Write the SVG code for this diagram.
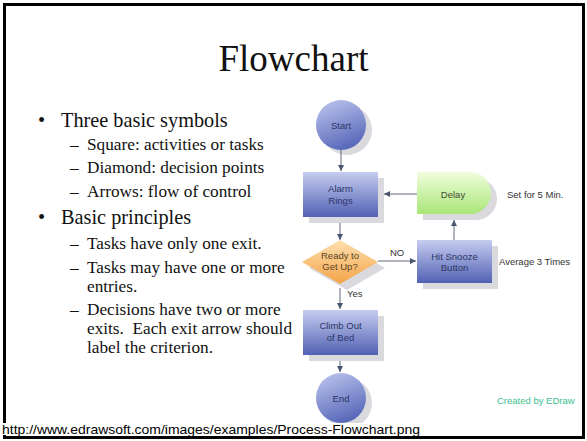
<svg xmlns="http://www.w3.org/2000/svg" width="587" height="441" viewBox="0 0 587 441">
<style>
.serif{font-family:"Liberation Serif","Times New Roman",serif;fill:#111}
.b1{font-size:20.3px}
.b2{font-size:17.25px}
.fc{font-family:"Liberation Sans",Arial,sans-serif;font-size:9.5px}
.in{fill:#2b3566;text-anchor:middle}
.lbl{fill:#333}
.sh{fill:#d9d9de}
.con line{stroke:#5f6678;stroke-width:1;fill:none}
</style>
<defs>
<linearGradient id="gBlue" x1="0" y1="0" x2="0" y2="1">
<stop offset="0" stop-color="#c6cdf0"/>
<stop offset="1" stop-color="#5161b4"/>
</linearGradient>
<linearGradient id="gCirc" x1="0.2" y1="0" x2="0.6" y2="1">
<stop offset="0" stop-color="#b9c2ec"/>
<stop offset="1" stop-color="#5666b8"/>
</linearGradient>
<linearGradient id="gGreen" x1="0" y1="0" x2="0" y2="1">
<stop offset="0" stop-color="#f1fddc"/>
<stop offset="1" stop-color="#a8e678"/>
</linearGradient>
<linearGradient id="gOrange" x1="0" y1="0" x2="0" y2="1">
<stop offset="0" stop-color="#fde0b0"/>
<stop offset="1" stop-color="#f3a448"/>
</linearGradient>
<marker id="arr" markerWidth="6" markerHeight="6" refX="6" refY="3" orient="auto" markerUnits="userSpaceOnUse">
<path d="M0,0 L6,3 L0,6 Z" fill="#4a5570"/>
</marker>
</defs>
<rect x="0" y="0" width="587" height="441" fill="#ffffff"/>
<rect x="4.5" y="4.5" width="579" height="433" fill="none" stroke="#000" stroke-width="3"/>

<g id="title">
<text class="serif" x="293.5" y="71" font-size="37" text-anchor="middle">Flowchart</text>
</g>

<g id="bullets" class="serif">
<text class="b1" x="38" y="127">•</text>
<text class="b1" x="61" y="127">Three basic symbols</text>
<text class="b2" x="70" y="150">–</text>
<text class="b2" x="87" y="150">Square: activities or tasks</text>
<text class="b2" x="70" y="173">–</text>
<text class="b2" x="87" y="173">Diamond: decision points</text>
<text class="b2" x="70" y="197">–</text>
<text class="b2" x="87" y="197">Arrows: flow of control</text>
<text class="b1" x="38" y="224">•</text>
<text class="b1" x="61" y="224">Basic principles</text>
<text class="b2" x="70" y="249">–</text>
<text class="b2" x="87" y="249">Tasks have only one exit.</text>
<text class="b2" x="70" y="273">–</text>
<text class="b2" x="87" y="273">Tasks may have one or more</text>
<text class="b2" x="87" y="292">entries.</text>
<text class="b2" x="70" y="315">–</text>
<text class="b2" x="87" y="315">Decisions have two or more</text>
<text class="b2" x="87" y="334" style="white-space:pre">exits.  Each exit arrow should</text>
<text class="b2" x="87" y="353">label the criterion.</text>
</g>

<g id="start">
<circle class="sh" cx="347" cy="130" r="25"/>
<circle cx="341" cy="125" r="25" fill="url(#gCirc)"/>
<text class="fc in" x="341" y="128.5">Start</text>
</g>

<g id="alarm">
<rect class="sh" x="309" y="178" width="75" height="45"/>
<rect x="303" y="172" width="75" height="45" fill="url(#gBlue)"/>
<text class="fc in" x="340.5" y="191.5">Alarm</text>
<text class="fc in" x="340.5" y="203.5">Rings</text>
</g>

<g id="delay">
<path class="sh" d="M423,178 H476 A21,21 0 0 1 476,220 H423 Z"/>
<path d="M417,172 H470 A21,21 0 0 1 470,214 H417 Z" fill="url(#gGreen)"/>
<text class="fc" x="453" y="197.5" text-anchor="middle" fill="#3f4a30">Delay</text>
<text class="fc lbl" x="507" y="197.5">Set for 5 Min.</text>
</g>

<g id="decision">
<polygon class="sh" points="347,246 385,268 347,290 309,268"/>
<polygon points="340,240 378,262 340,284 302,262" fill="url(#gOrange)"/>
<text class="fc" x="340" y="258.5" text-anchor="middle" fill="#5a4424">Ready to</text>
<text class="fc" x="340" y="270" text-anchor="middle" fill="#5a4424">Get Up?</text>
<text class="fc lbl" x="397" y="255.5" text-anchor="middle">NO</text>
<text class="fc lbl" x="347" y="296.5">Yes</text>
</g>

<g id="snooze">
<rect class="sh" x="423" y="246" width="75" height="43"/>
<rect x="417" y="240" width="75" height="43" fill="url(#gBlue)"/>
<text class="fc in" x="454.5" y="259.5">Hit Snooze</text>
<text class="fc in" x="454.5" y="271">Button</text>
<text class="fc lbl" x="499" y="264.5">Average 3 Times</text>
</g>

<g id="climb">
<rect class="sh" x="309" y="316" width="75" height="45"/>
<rect x="303" y="310" width="75" height="45" fill="url(#gBlue)"/>
<text class="fc in" x="340.5" y="328.5">Climb Out</text>
<text class="fc in" x="340.5" y="340.5">of Bed</text>
</g>

<g id="end">
<circle class="sh" cx="347" cy="403" r="25"/>
<circle cx="341" cy="398" r="25" fill="url(#gCirc)"/>
<text class="fc in" x="341" y="401.5">End</text>
</g>

<g id="connectors" class="con">
<line x1="341" y1="150" x2="341" y2="171" marker-end="url(#arr)"/>
<line x1="417" y1="194" x2="384" y2="194" marker-end="url(#arr)"/>
<line x1="340" y1="223" x2="340" y2="240" marker-end="url(#arr)"/>
<line x1="378" y1="261" x2="416" y2="261" marker-end="url(#arr)"/>
<line x1="454" y1="240" x2="454" y2="220" marker-end="url(#arr)"/>
<line x1="340" y1="288" x2="340" y2="309" marker-end="url(#arr)"/>
<line x1="340" y1="361" x2="340" y2="372" marker-end="url(#arr)"/>
</g>

<g id="credit">
<text class="fc" x="497" y="403.5" fill="#3dbf8c">Created by EDraw</text>
</g>

<g id="url">
<rect x="0" y="423" width="422" height="12" fill="#ffffff"/>
<text x="2" y="434" font-family="'Liberation Sans',Arial,sans-serif" font-size="13.5" fill="#000" textLength="418" lengthAdjust="spacingAndGlyphs">http://www.edrawsoft.com/images/examples/Process-Flowchart.png</text>
</g>
</svg>
